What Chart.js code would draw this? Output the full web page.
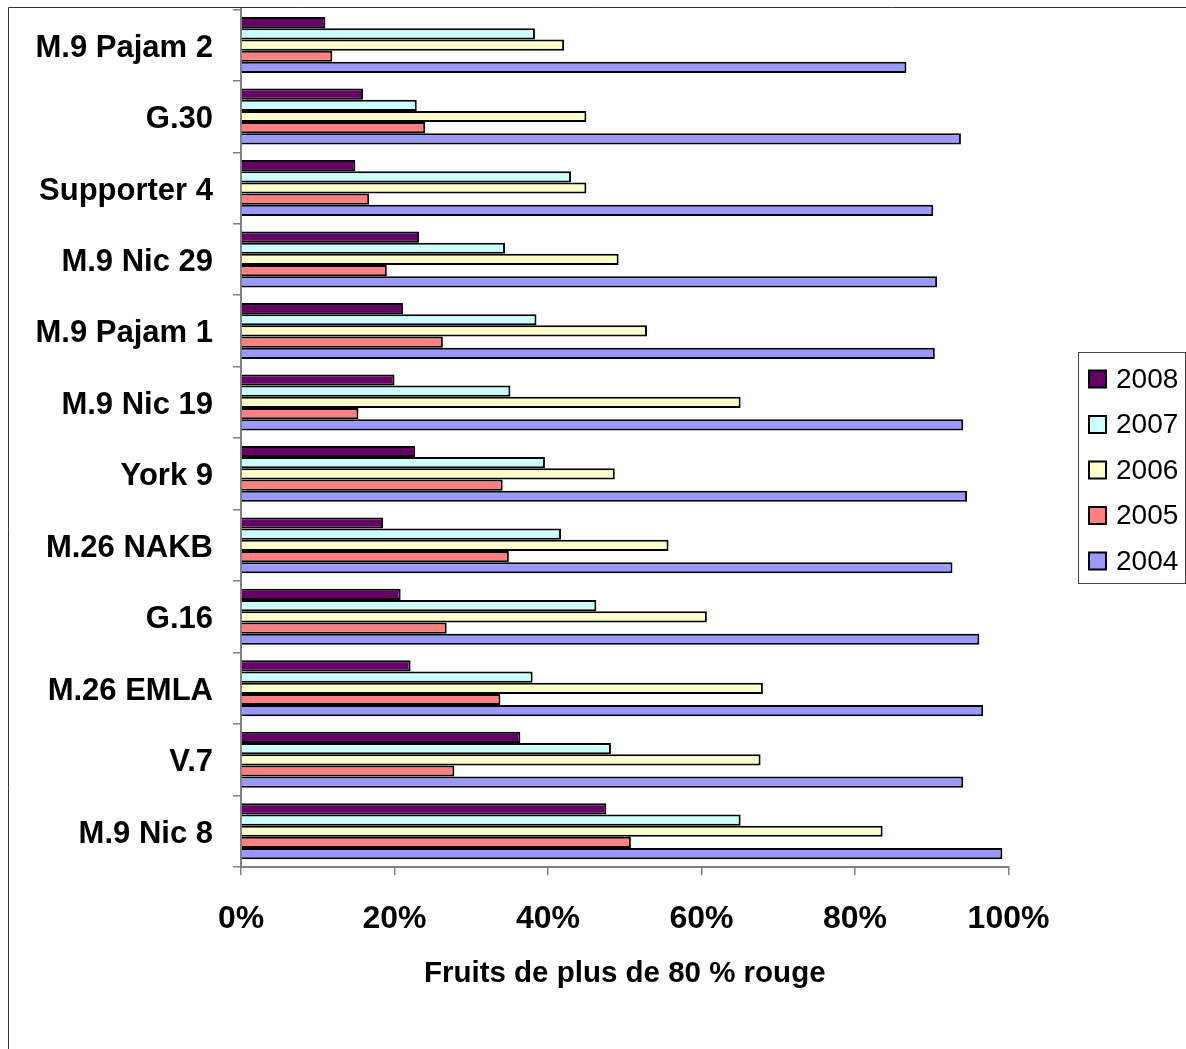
<!DOCTYPE html>
<html>
<head>
<meta charset="utf-8">
<script src="https://cdn.jsdelivr.net/npm/chart.js@4.4.1/dist/chart.umd.min.js"></script>
<style>
html, body { margin: 0; padding: 0; background: #ffffff; }
#wrap { width: 1186px; height: 1049px; position: relative; }
</style>
</head>
<body>
<div id="wrap"><canvas id="c" width="1186" height="1049"></canvas></div>
<script>
// ---- data ----
const categories = ["M.9 Pajam 2", "G.30", "Supporter 4", "M.9 Nic 29", "M.9 Pajam 1", "M.9 Nic 19", "York 9", "M.26 NAKB", "G.16", "M.26 EMLA", "V.7", "M.9 Nic 8"];
const seriesNames = ["2008", "2007", "2006", "2005", "2004"];
const values2008 = [11.0, 15.9, 14.9, 23.2, 21.1, 20.0, 22.7, 18.5, 20.8, 22.1, 36.4, 47.6];
const values2007 = [38.3, 22.9, 43.0, 34.4, 38.5, 35.1, 39.6, 41.7, 46.3, 38.0, 48.2, 65.1];
const values2006 = [42.1, 45.0, 45.0, 49.2, 52.9, 65.1, 48.7, 55.7, 60.7, 68.0, 67.7, 83.6];
const values2005 = [11.9, 24.0, 16.7, 19.0, 26.3, 15.3, 34.1, 34.9, 26.8, 33.8, 27.8, 50.8];
const values2004 = [86.7, 93.8, 90.2, 90.7, 90.4, 94.1, 94.6, 92.7, 96.2, 96.7, 94.1, 99.2];
const xTickLabels = ["0%", "20%", "40%", "60%", "80%", "100%"];
const xAxisTitle = "Fruits de plus de 80 % rouge";

// ---- styles ----
const seriesColors = ["#660066", "#CCFFFF", "#FFFFCC", "#FF8080", "#9999FF"];
const seriesValues = [values2008, values2007, values2006, values2005, values2004];
const FONT = '"Liberation Sans", Arial, sans-serif';
const AXIS_GRAY = '#808080';

const datasets = seriesNames.map((name, i) => ({
  label: name,
  data: seriesValues[i],
  backgroundColor: seriesColors[i],
  borderColor: '#000000',
  borderWidth: 2,
  categoryPercentage: 0.783,
  barPercentage: 1.0
}));

const framePlugin = {
  id: 'frame',
  beforeDraw(chart) {
    const ctx = chart.ctx;
    ctx.save();
    ctx.fillStyle = '#ffffff';
    ctx.fillRect(0, 0, chart.width, chart.height);
    ctx.strokeStyle = '#333333';
    ctx.lineWidth = 1;
    ctx.beginPath();
    ctx.moveTo(8.5, chart.height);
    ctx.lineTo(8.5, 7.5);
    ctx.lineTo(chart.width, 7.5);
    ctx.stroke();
    ctx.restore();
  }
};

const boxLegendPlugin = {
  id: 'boxLegend',
  afterDraw(chart) {
    const ctx = chart.ctx;
    ctx.save();
    ctx.strokeStyle = '#444444';
    ctx.lineWidth = 1;
    ctx.strokeRect(1078.5, 352.5, 107, 231);
    chart.data.datasets.forEach((ds, i) => {
      const cy = 379 + 45.5 * i;
      ctx.fillStyle = ds.backgroundColor;
      ctx.fillRect(1089, cy - 8.5, 17, 17);
      ctx.lineWidth = 2;
      ctx.strokeStyle = '#000000';
      ctx.strokeRect(1089, cy - 8.5, 17, 17);
      ctx.fillStyle = '#000000';
      ctx.font = '28px ' + FONT;
      ctx.textAlign = 'left';
      ctx.textBaseline = 'middle';
      ctx.fillText(ds.label, 1116, cy + 1);
    });
    ctx.restore();
  }
};

new Chart(document.getElementById('c'), {
  type: 'bar',
  data: { labels: categories, datasets: datasets },
  plugins: [framePlugin, boxLegendPlugin],
  options: {
    responsive: false,
    animation: false,
    indexAxis: 'y',
    layout: { padding: { top: 9.3, left: 0, right: 177.5, bottom: 0 } },
    plugins: { legend: { display: false }, tooltip: { enabled: false } },
    scales: {
      x: {
        min: 0,
        max: 100,
        ticks: {
          stepSize: 20,
          autoSkip: false,
          maxRotation: 0,
          color: '#000000',
          padding: 25,
          font: { family: FONT, size: 32, weight: 'bold' },
          callback: (v, i) => xTickLabels[i]
        },
        grid: { drawOnChartArea: false, drawTicks: true, tickLength: 8, color: AXIS_GRAY, lineWidth: 1.5 },
        border: { display: true, color: AXIS_GRAY, width: 2 },
        title: {
          display: true,
          text: xAxisTitle,
          color: '#000000',
          font: { family: FONT, size: 29.5, weight: 'bold' },
          padding: { top: 0, bottom: 57 }
        },
        afterFit(s) { s.height = 182; s.paddingLeft = 0; s.paddingRight = 0; }
      },
      y: {
        ticks: {
          autoSkip: false,
          color: '#000000',
          padding: 20,
          labelOffset: 3,
          font: { family: FONT, size: 31, weight: 'bold' }
        },
        grid: { drawOnChartArea: false, drawTicks: true, tickLength: 8, color: AXIS_GRAY, lineWidth: 1.5, offset: true },
        border: { display: true, color: AXIS_GRAY, width: 2 },
        afterFit(s) { s.width = 241; s.paddingTop = 0; s.paddingBottom = 0; }
      }
    }
  }
});
</script>
</body>
</html>
